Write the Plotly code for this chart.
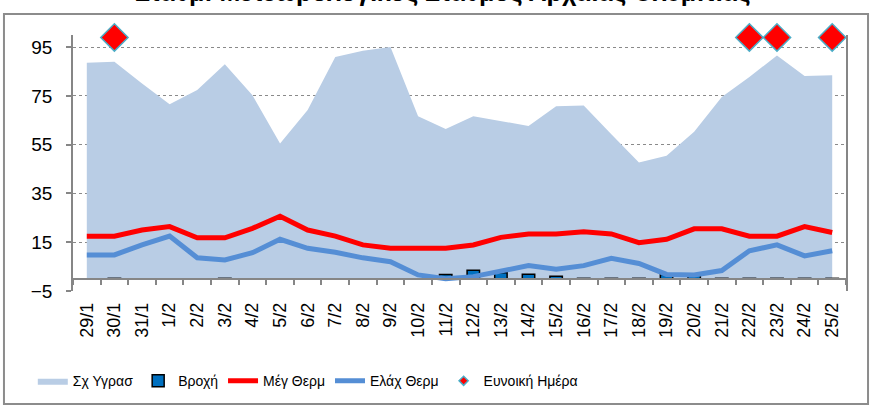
import plotly.graph_objects as go

dates = ["29/1", "30/1", "31/1", "1/2", "2/2", "3/2", "4/2", "5/2", "6/2", "7/2",
         "8/2", "9/2", "10/2", "11/2", "12/2", "13/2", "14/2", "15/2", "16/2", "17/2",
         "18/2", "19/2", "20/2", "21/2", "22/2", "23/2", "24/2", "25/2"]

humidity = [88.6, 89.0, 80.1, 71.6, 77.4, 88.0, 75.3, 55.5, 69.2, 91.0,
            93.5, 95.1, 66.7, 61.4, 66.7, 64.8, 62.7, 70.8, 71.1, 59.3,
            47.7, 50.5, 60.3, 74.6, 82.8, 91.6, 83.2, 83.5]

rain = [None, 0.2, None, None, None, 0.2, None, None, None, None,
        None, None, None, 1.8, 3.5, 2.5, 1.9, 1.1, 0.2, 0.2,
        0.2, 1.8, 1.8, 0.2, 0.2, 0.2, 0.2, 0.2]

tmax = [17.5, 17.5, 20.0, 21.4, 16.8, 16.8, 20.7, 25.7, 20.0, 17.5,
        13.9, 12.5, 12.5, 12.5, 13.9, 17.0, 18.4, 18.4, 19.3, 18.4,
        14.8, 16.2, 20.5, 20.5, 17.5, 17.5, 21.4, 19.0]

tmin = [9.8, 9.8, 13.9, 17.5, 8.6, 7.7, 10.7, 16.2, 12.5, 10.9,
        8.6, 7.0, 1.6, 0.0, 0.9, 3.0, 5.4, 3.9, 5.4, 8.4,
        6.3, 1.8, 1.6, 3.4, 11.5, 13.9, 9.4, 11.5]

favorable = [None, 99, None, None, None, None, None, None, None, None,
             None, None, None, None, None, None, None, None, None, None,
             None, None, None, None, 99, 99, None, 99]

y_ticks = [-5, 15, 35, 55, 75, 95]
y_range = [-5, 100]

title_text = "Σταθμ: Μετεωρολογικός Σταθμός Αρχαίας Ολυμπίας"

SANS = "Liberation Sans, Arial, sans-serif"

fig = go.Figure()
fig.add_trace(go.Scatter(x=dates, y=humidity, name="Σχ Υγρασ", mode="lines",
                         fill="tozeroy", fillcolor="#B9CDE5",
                         line=dict(width=0, color="#B9CDE5")))
fig.add_trace(go.Bar(x=dates, y=rain, name="Βροχή", width=0.45, yaxis="y2",
                     marker=dict(color="#0070C0", line=dict(color="black", width=1.5))))
fig.add_trace(go.Scatter(x=dates, y=tmax, name="Μέγ Θερμ", mode="lines", yaxis="y2",
                         line=dict(color="#FF0000", width=5)))
fig.add_trace(go.Scatter(x=dates, y=tmin, name="Ελάχ Θερμ", mode="lines", yaxis="y2",
                         line=dict(color="#558ED5", width=5)))
fig.add_trace(go.Scatter(x=dates, y=favorable, name="Ευνοική Ημέρα", mode="markers",
                         yaxis="y2", showlegend=False, cliponaxis=False,
                         marker=dict(symbol="diamond", size=21, color="#FF0000",
                                     line=dict(color="#4BACC6", width=1.5))))
fig.add_trace(go.Scatter(x=[None], y=[None], name="Ευνοική Ημέρα", mode="markers",
                         yaxis="y2",
                         marker=dict(symbol="diamond", size=7, color="#FF0000",
                                     line=dict(color="#4BACC6", width=1.5))))

zero_pos = (0 - y_range[0]) / (y_range[1] - y_range[0])

fig.update_layout(
    width=872, height=405,
    margin=dict(l=73, r=26, t=35, b=114, autoexpand=False),
    paper_bgcolor="white", plot_bgcolor="white",
    showlegend=True,
    legend=dict(orientation="h", x=-0.052, y=-0.29, xanchor="left", yanchor="top",
                font=dict(family=SANS, size=14, color="black"),
                itemwidth=30, tracegroupgap=0, bgcolor="rgba(0,0,0,0)"),
    xaxis=dict(type="category", categoryorder="array", categoryarray=dates,
               anchor="free", position=zero_pos, automargin=False,
               showline=True, linecolor="#868686", linewidth=1.5,
               ticks="outside", tickson="boundaries", ticklen=5, tickcolor="#868686",
               tickwidth=1.5, tickangle=-90, ticklabelstandoff=16,
               tickfont=dict(family=SANS, size=18, color="black"),
               showgrid=False, zeroline=False, range=[-0.5, len(dates) - 0.5]),
    yaxis=dict(range=y_range, tickvals=y_ticks, showline=True, linecolor="#868686",
               linewidth=1.5, mirror=True, ticks="outside", ticklen=5, automargin=False,
               tickcolor="#868686", tickwidth=1.5, ticklabelstandoff=10,
               tickfont=dict(family=SANS, size=19, color="black"),
               showgrid=True, gridcolor="#8a8a8a", gridwidth=1, griddash="dot",
               zeroline=False),
    yaxis2=dict(range=y_range, overlaying="y", visible=False, showgrid=False,
                zeroline=False),
    shapes=[dict(type="rect", xref="paper", yref="paper",
                 x0=-0.0893, x1=1.0285, y0=-0.441, y1=1.082,
                 line=dict(color="#8c8c8c", width=2), layer="below")],
    annotations=[dict(text="<b>" + title_text + "</b>", xref="paper", yref="paper",
                      x=0.4787, y=1.103, xanchor="center", yanchor="bottom",
                      showarrow=False, font=dict(family=SANS, size=25, color="black"))],
)

fig.write_html("out.html", config={"displayModeBar": False},
               post_script="document.body.style.margin='0px';document.body.style.overflow='hidden';")
